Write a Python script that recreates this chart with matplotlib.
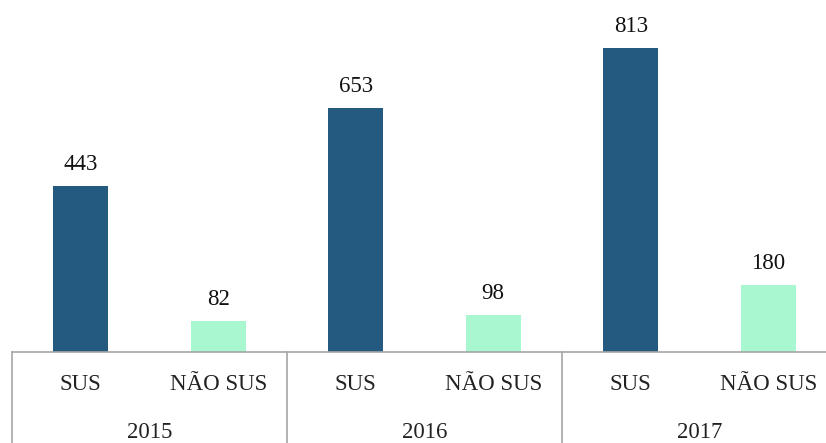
import matplotlib
matplotlib.use("Agg")
import matplotlib.pyplot as plt

years = ["2015", "2016", "2017"]
groups = ["SUS", "NÃO SUS"]
sus = [443, 653, 813]
nao_sus = [82, 98, 180]

plt.rcParams['font.family'] = ['Liberation Serif', 'DejaVu Serif']

W, H = 826, 443
fig = plt.figure(figsize=(W / 100, H / 100), dpi=100)
left = 12 / W
right = 837 / W
bottom = (H - 352) / H
ax = fig.add_axes([left, bottom, right - left, 1 - bottom])

values = []
colors = []
labels = []
for s, n in zip(sus, nao_sus):
    values += [s, n]
    colors += ["#245A80", "#A9F7D1"]
    labels += groups

FS = 16.5
x = list(range(len(values)))
bars = ax.bar(x, values, width=0.4, color=colors)
for xi, v in zip(x, values):
    ax.annotate(str(v), (xi, v), xytext=(0, 8), textcoords="offset points",
                ha="center", va="bottom", fontsize=FS, color="#111111")

ax.set_xlim(-0.5, len(values) - 0.5)
ax.set_ylim(0, 941)
for sp in ["top", "right", "left"]:
    ax.spines[sp].set_visible(False)
ax.spines["bottom"].set_color("#A6A6A6")
ax.spines["bottom"].set_linewidth(1.2)
ax.set_yticks([])
ax.set_xticks(x)
ax.set_xticklabels(labels, fontsize=FS, color="#222222")
ax.tick_params(axis="x", length=0, pad=16)

trans = ax.get_xaxis_transform()
for i, yr in enumerate(years):
    ax.text(2 * i + 0.5, -0.228, yr, transform=trans, ha="center", va="center",
            fontsize=FS, color="#222222", clip_on=False)
for b in [-0.5, 1.5, 3.5, 5.5]:
    ax.plot([b, b], [0, -1.0], transform=trans, color="#A6A6A6", lw=1.2,
            clip_on=False)

fig.savefig("out.png", dpi=100)
